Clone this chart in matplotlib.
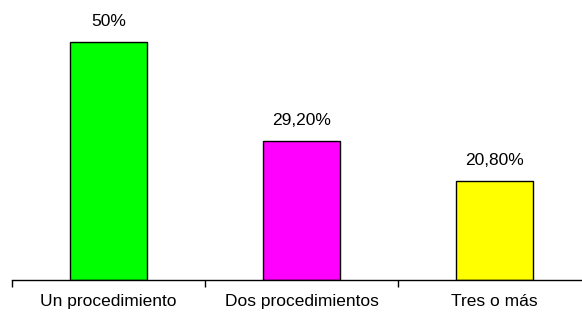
import matplotlib.pyplot as plt

categories = ["Un procedimiento", "Dos procedimientos", "Tres o más"]
values = [50, 29.2, 20.8]
value_labels = ["50%", "29,20%", "20,80%"]
colors = ["#00ff00", "#ff00ff", "#ffff00"]

plt.rcParams['font.family'] = ['Liberation Sans', 'DejaVu Sans']

fig = plt.figure(figsize=(5.82, 3.18), dpi=100)
ax = fig.add_axes([12 / 582, 38 / 318, 1 - 12 / 582, 1 - 38 / 318])

x = list(range(len(categories)))
ax.bar(x, values, width=0.4, color=colors, edgecolor="black", linewidth=1)
for xi, v, lab in zip(x, values, value_labels):
    ax.annotate(lab, (xi, v), xytext=(0, 15), textcoords="offset points",
                ha="center", va="center", fontsize=12.5)

for s in ["top", "right", "left"]:
    ax.spines[s].set_visible(False)
ax.spines["bottom"].set_linewidth(1)
ax.set_yticks([])
ax.set_xticks(x)
ax.set_xticklabels(categories, fontsize=12.5)
ax.tick_params(axis="x", which="major", length=0, pad=10)
ax.set_xticks([-0.5, 0.5, 1.5, 2.5], minor=True)
ax.tick_params(axis="x", which="minor", length=5, direction="out", width=1)
ax.set_xlim(-0.5, 2.453)
ax.set_ylim(0, 58.8)

fig.savefig("out.png", dpi=100)
